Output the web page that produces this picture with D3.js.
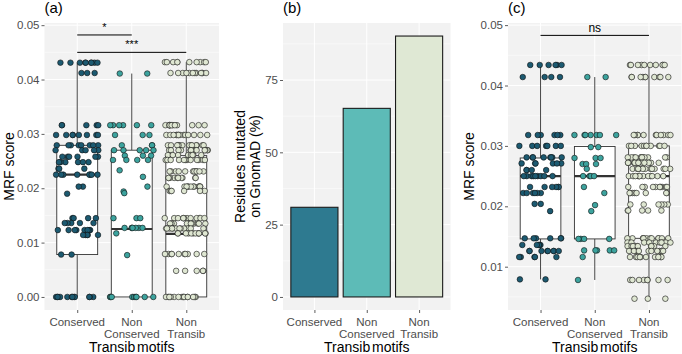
<!DOCTYPE html>
<html>
<head>
<meta charset="utf-8">
<script src="https://cdn.jsdelivr.net/npm/d3@7"></script>
<style>
  body { margin: 0; background: #fff; }
  text { font-family: "Liberation Sans", Arial, sans-serif; }
</style>
</head>
<body>
<script>
// categories and tick labels
const categories = ['Conserved', 'Non Conserved', 'Non Transib'];
const tickLabels = [['Conserved'], ['Non', 'Conserved'], ['Non', 'Transib']];

// colours per category
const pointColors = ['#1c5a71', '#3ca39e', '#dfe7d2'];
const barColors = ['#2e7a90', '#5dbbb7', '#dfe8d4'];

// (a) MRF score, points as [value, count]
const mrfA_conserved = [[0.0431, 9], [0.0412, 3], [0.0316, 5], [0.0298, 8], [0.0279, 8], [0.027, 5],
  [0.0258, 6], [0.0248, 6], [0.0236, 3], [0.0225, 8], [0.0203, 2], [0.019, 1], [0.0145, 4], [0.0136, 5],
  [0.0123, 8], [0.0114, 5], [0.0078, 2], [0, 12]];
const mrfA_nonConserved = [[0.0411, 2], [0.0316, 6], [0.0298, 3], [0.0279, 3], [0.027, 5], [0.026, 3],
  [0.0252, 4], [0.0233, 1], [0.0221, 1], [0.0203, 1], [0.0194, 1], [0.0191, 1], [0.0145, 3], [0.0127, 7],
  [0.0117, 1], [0.0077, 1], [0, 9]];
const mrfA_nonTransib = [[0.0432, 10], [0.0412, 12], [0.0316, 12], [0.0298, 14], [0.0279, 14], [0.027, 12],
  [0.0261, 10], [0.0252, 12], [0.0231, 12], [0.0219, 10], [0.0203, 12], [0.0195, 6],
  [0.0145, 12], [0.0135, 12], [0.0126, 12], [0.0117, 12], [0.0079, 10], [0.0048, 5], [0, 14]];

// (a) boxes: [lower whisker, Q1, median, Q3, upper whisker]
const boxA = [[0, 0.0078, 0.0225, 0.0279, 0.0431], [0, 0, 0.0125, 0.027, 0.0411], [0, 0, 0.0116, 0.026, 0.0432]];
// (a) significance: [from, to, y, label]
const sigA = [['Conserved', 'Non Conserved', 0.0482, '*'], ['Conserved', 'Non Transib', 0.045, '***']];

// (b) residues mutated on GnomAD (%)
const gnomadPct = [31, 65.2, 90.2];

// (c) MRF score
const mrfC_conserved = [[0.0434, 6], [0.0414, 4], [0.0318, 6], [0.03, 7], [0.0281, 8], [0.0271, 6],
  [0.026, 4], [0.025, 9], [0.0232, 6], [0.0222, 6], [0.0204, 2], [0.0192, 1], [0.0147, 6], [0.0136, 5],
  [0.0126, 8], [0.0116, 5], [0.0079, 2]];
const mrfC_nonConserved = [[0.0414, 2], [0.0318, 7], [0.0298, 2], [0.028, 3], [0.027, 3], [0.0262, 1],
  [0.025, 4], [0.0232, 1], [0.0222, 1], [0.0202, 1], [0.0192, 1], [0.0146, 4], [0.0127, 5], [0.0116, 1],
  [0.0078, 1]];
const mrfC_nonTransib = [[0.0434, 10], [0.0414, 10], [0.0318, 11], [0.03, 11], [0.0281, 12], [0.0272, 12],
  [0.0262, 12], [0.025, 12], [0.0232, 10], [0.0222, 8], [0.0203, 6], [0.0193, 5], [0.0147, 12], [0.014, 10],
  [0.0134, 12], [0.0126, 12], [0.0116, 10], [0.0078, 8], [0.0047, 3]];
const boxC = [[0.0079, 0.0146, 0.025, 0.028, 0.0434], [0.0078, 0.0146, 0.025, 0.0299, 0.0414],
  [0.0047, 0.0147, 0.025, 0.03, 0.0434]];
const sigC = [['Conserved', 'Non Transib', 0.0483, 'ns']];

const W = 682, H = 354;
const TOP = 23, BOTTOM = 310;

const svg = d3.select('body').append('svg')
    .attr('width', W)
    .attr('height', H);

const panels = [
  { tag: '(a)', x0: 44.5, x1: 219, domain: [-0.0024, 0.0504], ticks: [0, 0.01, 0.02, 0.03, 0.04, 0.05],
    fmt: d3.format('.2f'), ylab: ['MRF score'], ylabX: [8.5] },
  { tag: '(b)', x0: 283, x1: 450.5, domain: [-4.51, 94.71], ticks: [0, 25, 50, 75],
    fmt: d3.format('d'), ylab: ['Residues mutated', 'on GnomAD (%)'], ylabX: [240, 255] },
  { tag: '(c)', x0: 508, x1: 681.5, domain: [0.00283, 0.05035], ticks: [0.01, 0.02, 0.03, 0.04, 0.05],
    fmt: d3.format('.2f'), ylab: ['MRF score'], ylabX: [469] }
];

panels.forEach(p => {
  p.x = d3.scalePoint().domain(categories).range([p.x0, p.x1]).padding(0.6);
  p.y = d3.scaleLinear().domain(p.domain).range([BOTTOM, TOP]);
  const g = svg.append('g');
  p.g = g;

  // panel background and grid
  g.append('rect').attr('x', p.x0).attr('y', TOP)
    .attr('width', p.x1 - p.x0).attr('height', BOTTOM - TOP).attr('fill', '#f2f2f2');
  const step = p.ticks[1] - p.ticks[0];
  const minor = d3.range(p.ticks[0] - step / 2, p.domain[1], step).filter(v => v > p.domain[0]);
  g.selectAll('.minor').data(minor).join('line')
    .attr('x1', p.x0).attr('x2', p.x1)
    .attr('y1', d => p.y(d)).attr('y2', d => p.y(d))
    .attr('stroke', '#fff').attr('stroke-width', 0.5);
  g.selectAll('.major').data(p.ticks).join('line')
    .attr('x1', p.x0).attr('x2', p.x1)
    .attr('y1', d => p.y(d)).attr('y2', d => p.y(d))
    .attr('stroke', '#fff').attr('stroke-width', 1);
  g.selectAll('.vgrid').data(categories).join('line')
    .attr('x1', d => p.x(d)).attr('x2', d => p.x(d))
    .attr('y1', TOP).attr('y2', BOTTOM)
    .attr('stroke', '#fff').attr('stroke-width', 1);

  // axes
  const yAxis = d3.axisLeft(p.y).tickValues(p.ticks).tickFormat(p.fmt).tickSize(3).tickPadding(2);
  const yg = g.append('g').attr('transform', `translate(${p.x0},0)`).call(yAxis);
  const xAxis = d3.axisBottom(p.x).tickSize(3).tickFormat('');
  const xg = g.append('g').attr('transform', `translate(0,${BOTTOM})`).call(xAxis);
  [yg, xg].forEach(a => {
    a.select('.domain').remove();
    a.selectAll('line').attr('stroke', '#333').attr('stroke-width', 0.8);
    a.selectAll('text').attr('fill', '#4d4d4d').style('font-size', '11.5px');
  });

  // x tick labels (multi-line)
  categories.forEach((c, i) => {
    const t = g.append('text').attr('text-anchor', 'middle').attr('fill', '#4d4d4d')
      .style('font-size', '11.5px');
    tickLabels[i].forEach((line, j) => {
      t.append('tspan').attr('x', p.x(c)).attr('y', 326 + j * 11.5).text(line);
    });
  });

  // axis titles
  g.append('text').attr('x', (p.x0 + p.x1) / 2).attr('y', 352)
    .attr('text-anchor', 'middle').style('font-size', '14px').style('word-spacing', '-2px')
    .text('Transib motifs');
  p.ylab.forEach((l, i) => {
    g.append('text')
      .attr('transform', `translate(${p.ylabX[i]},${(TOP + BOTTOM) / 2}) rotate(-90)`)
      .attr('text-anchor', 'middle').attr('dominant-baseline', 'central')
      .style('font-size', '14px').text(l);
  });

  // panel tag
  g.append('text').attr('x', p.x0).attr('y', 13).style('font-size', '15px').text(p.tag);
});

// repeatable jitter offset in [-1, 1] (integer hash of point index and group seed)
const jitter = (k, seed) => {
  let h = Math.imul(k + 1, 374761393) ^ Math.imul(seed + 7, 668265263);
  h = Math.imul(h ^ (h >>> 13), 1274126177);
  h ^= h >>> 16;
  return (h >>> 0) / 4294967296 * 2 - 1;
};

// boxplot + jitter panels
function drawBoxes(p, boxes, groups, sigs, seed) {
  const g = p.g;
  const bw = p.x.step() * 0.75;
  boxes.forEach((b, i) => {
    const cx = p.x(categories[i]);
    g.append('line').attr('x1', cx).attr('x2', cx).attr('y1', p.y(b[3])).attr('y2', p.y(b[4]))
      .attr('stroke', '#333').attr('stroke-width', 0.9);
    g.append('line').attr('x1', cx).attr('x2', cx).attr('y1', p.y(b[0])).attr('y2', p.y(b[1]))
      .attr('stroke', '#333').attr('stroke-width', 0.9);
    g.append('rect').attr('x', cx - bw / 2).attr('y', p.y(b[3]))
      .attr('width', bw).attr('height', p.y(b[1]) - p.y(b[3]))
      .attr('fill', '#fff').attr('stroke', '#333').attr('stroke-width', 0.9);
    g.append('line').attr('x1', cx - bw / 2).attr('x2', cx + bw / 2)
      .attr('y1', p.y(b[2])).attr('y2', p.y(b[2]))
      .attr('stroke', '#333').attr('stroke-width', 2.2);
  });

  groups.forEach((grp, i) => {
    const pts = [];
    grp.forEach(([v, n]) => { for (let k = 0; k < n; k++) pts.push(v); });
    const cx = p.x(categories[i]);
    const jw = p.x.step() * 0.4;
    g.selectAll(null).data(pts).join('circle')
      .attr('cx', (d, k) => cx + jitter(k, seed * 10 + i) * jw)
      .attr('cy', d => p.y(d))
      .attr('r', 2.8)
      .attr('fill', pointColors[i])
      .attr('stroke', '#111').attr('stroke-width', 0.6);
  });

  // significance bars
  sigs.forEach(([a, b, v, lab]) => {
    g.append('line').attr('x1', p.x(a)).attr('x2', p.x(b)).attr('y1', p.y(v)).attr('y2', p.y(v))
      .attr('stroke', '#000').attr('stroke-width', 1);
    g.append('text').attr('x', (p.x(a) + p.x(b)) / 2).attr('y', p.y(v) - (lab === 'ns' ? 3 : 4))
      .attr('text-anchor', 'middle').style('font-size', lab === 'ns' ? '12px' : '11px').text(lab);
  });
}

drawBoxes(panels[0], boxA, [mrfA_conserved, mrfA_nonConserved, mrfA_nonTransib], sigA, 1);
drawBoxes(panels[2], boxC, [mrfC_conserved, mrfC_nonConserved, mrfC_nonTransib], sigC, 2);

// (b) bars
const pb = panels[1];
pb.g.selectAll('.bar').data(gnomadPct).join('rect')
  .attr('x', (d, i) => pb.x(categories[i]) - pb.x.step() * 0.45)
  .attr('width', pb.x.step() * 0.9)
  .attr('y', d => pb.y(d))
  .attr('height', d => pb.y(0) - pb.y(d))
  .attr('fill', (d, i) => barColors[i])
  .attr('stroke', '#1a1a1a').attr('stroke-width', 1.1);
</script>
</body>
</html>
